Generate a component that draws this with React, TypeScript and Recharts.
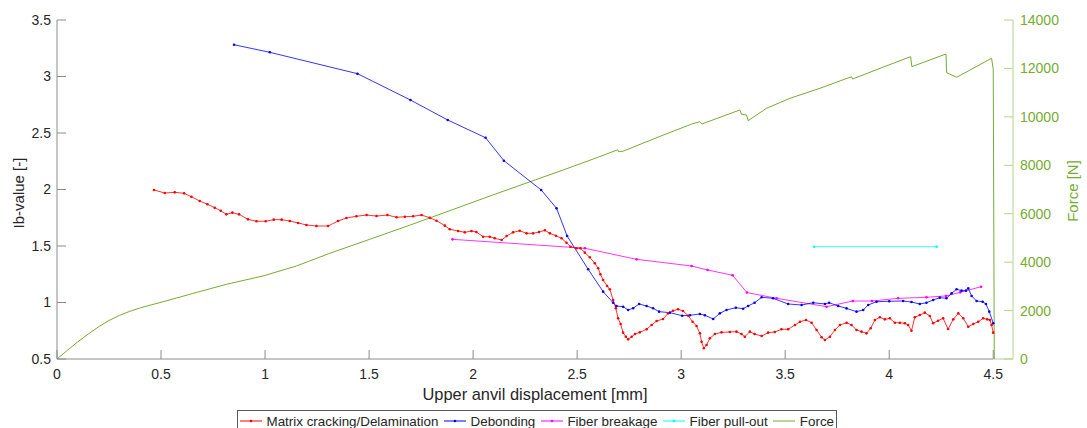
import React from 'react';
import { ComposedChart, Line, XAxis, YAxis, Legend, ReferenceLine } from 'recharts';

const FONT = '"Liberation Sans", Arial, Helvetica, sans-serif';

const xTicks = [0, 0.5, 1, 1.5, 2, 2.5, 3, 3.5, 4, 4.5];
const leftTicks = [0.5, 1, 1.5, 2, 2.5, 3, 3.5];
const rightTicks = [0, 2000, 4000, 6000, 8000, 10000, 12000, 14000];

const matrixX = [0.466, 0.518, 0.566, 0.611, 0.646, 0.686, 0.723, 0.758, 0.787, 0.814, 0.843, 0.875, 0.918, 0.959, 1.003, 1.042, 1.08, 1.119, 1.159, 1.199, 1.247, 1.303, 1.351, 1.391, 1.439, 1.488, 1.536, 1.588, 1.632, 1.672, 1.712, 1.752, 1.792, 1.824, 1.864, 1.888, 1.928, 1.96, 1.992, 2.016, 2.048, 2.08, 2.104, 2.137, 2.161, 2.192, 2.224, 2.257, 2.288, 2.317, 2.345, 2.369, 2.398, 2.425, 2.449, 2.468, 2.497, 2.516, 2.537, 2.561, 2.585, 2.601, 2.612, 2.625, 2.644, 2.657, 2.673, 2.686, 2.697, 2.709, 2.721, 2.734, 2.745, 2.762, 2.778, 2.801, 2.834, 2.858, 2.882, 2.913, 2.937, 2.961, 2.985, 3.009, 3.034, 3.055, 3.074, 3.09, 3.098, 3.109, 3.122, 3.138, 3.162, 3.194, 3.234, 3.266, 3.29, 3.306, 3.33, 3.353, 3.387, 3.418, 3.45, 3.482, 3.514, 3.547, 3.571, 3.6, 3.627, 3.651, 3.675, 3.691, 3.715, 3.739, 3.763, 3.795, 3.819, 3.843, 3.867, 3.891, 3.911, 3.931, 3.955, 3.979, 4.003, 4.027, 4.051, 4.075, 4.091, 4.107, 4.123, 4.147, 4.171, 4.195, 4.211, 4.235, 4.259, 4.283, 4.308, 4.332, 4.356, 4.38, 4.404, 4.428, 4.452, 4.471, 4.484, 4.492, 4.5];
const matrixY = [1.996, 1.969, 1.975, 1.966, 1.936, 1.898, 1.869, 1.839, 1.812, 1.78, 1.795, 1.78, 1.736, 1.719, 1.719, 1.733, 1.733, 1.721, 1.704, 1.686, 1.677, 1.677, 1.721, 1.748, 1.763, 1.774, 1.765, 1.774, 1.754, 1.759, 1.763, 1.774, 1.75, 1.724, 1.68, 1.648, 1.633, 1.621, 1.633, 1.624, 1.582, 1.582, 1.568, 1.553, 1.588, 1.621, 1.635, 1.612, 1.612, 1.624, 1.639, 1.612, 1.591, 1.568, 1.529, 1.494, 1.48, 1.48, 1.441, 1.4, 1.347, 1.303, 1.25, 1.199, 1.146, 1.117, 1.022, 0.949, 0.86, 0.81, 0.733, 0.697, 0.674, 0.697, 0.721, 0.736, 0.763, 0.801, 0.836, 0.854, 0.904, 0.927, 0.94, 0.925, 0.883, 0.83, 0.792, 0.727, 0.653, 0.595, 0.624, 0.683, 0.721, 0.736, 0.739, 0.742, 0.721, 0.697, 0.742, 0.721, 0.703, 0.733, 0.739, 0.763, 0.763, 0.801, 0.83, 0.845, 0.821, 0.757, 0.692, 0.668, 0.697, 0.757, 0.801, 0.821, 0.801, 0.757, 0.742, 0.727, 0.772, 0.845, 0.869, 0.851, 0.86, 0.821, 0.821, 0.816, 0.801, 0.75, 0.869, 0.889, 0.91, 0.881, 0.816, 0.839, 0.86, 0.765, 0.851, 0.904, 0.86, 0.786, 0.81, 0.83, 0.86, 0.851, 0.845, 0.801, 0.733];

const debondX = [0.851, 1.023, 1.444, 1.699, 1.878, 2.06, 2.148, 2.327, 2.401, 2.452, 2.553, 2.625, 2.673, 2.689, 2.721, 2.745, 2.769, 2.798, 2.834, 2.865, 2.894, 2.946, 3.005, 3.042, 3.09, 3.114, 3.154, 3.186, 3.218, 3.263, 3.298, 3.322, 3.353, 3.387, 3.442, 3.514, 3.579, 3.635, 3.691, 3.711, 3.755, 3.795, 3.843, 3.875, 3.899, 3.939, 4.0, 4.067, 4.107, 4.147, 4.179, 4.211, 4.243, 4.275, 4.3, 4.324, 4.348, 4.369, 4.38, 4.396, 4.42, 4.449, 4.465, 4.481, 4.5];
const debondY = [3.281, 3.214, 3.025, 2.792, 2.615, 2.458, 2.255, 1.996, 1.834, 1.588, 1.294, 1.096, 0.998, 0.969, 0.963, 0.934, 0.949, 0.987, 0.969, 0.949, 0.919, 0.91, 0.883, 0.887, 0.898, 0.887, 0.854, 0.904, 0.934, 0.954, 0.945, 0.969, 0.998, 1.046, 1.037, 0.987, 0.978, 0.998, 0.987, 0.998, 0.969, 0.948, 0.919, 0.934, 0.978, 1.007, 1.011, 1.013, 1.004, 0.987, 0.998, 1.022, 1.043, 1.037, 1.081, 1.117, 1.105, 1.105, 1.126, 1.058, 1.013, 1.007, 0.987, 0.919, 0.816];

const breakageX = [1.901, 2.537, 2.786, 3.05, 3.127, 3.247, 3.316, 3.459, 3.699, 3.825, 3.917, 4.043, 4.179, 4.273, 4.341, 4.442];
const breakageY = [1.559, 1.48, 1.382, 1.323, 1.288, 1.241, 1.088, 1.037, 0.963, 1.013, 1.013, 1.037, 1.046, 1.058, 1.09, 1.14];

const pulloutX = [3.639, 4.228];
const pulloutY = [1.494, 1.494];

const forceX = [0, 0.05, 0.1, 0.15, 0.2, 0.25, 0.3, 0.35, 0.4, 0.45, 0.494, 0.65, 0.814, 0.99, 1.151, 1.311, 1.503, 1.7, 1.888, 2.1, 2.3, 2.433, 2.6, 2.695, 2.7, 2.72, 2.9, 3.05, 3.09, 3.1, 3.282, 3.29, 3.314, 3.322, 3.41, 3.523, 3.667, 3.819, 3.824, 3.964, 4.103, 4.109, 4.273, 4.276, 4.324, 4.492, 4.5, 4.505];
const forceY = [0, 360, 710, 1030, 1330, 1590, 1800, 1970, 2110, 2230, 2326, 2700, 3084, 3428, 3841, 4365, 4943, 5540, 6126, 6790, 7400, 7806, 8330, 8640, 8560, 8580, 9200, 9700, 9800, 9706, 10284, 10106, 10077, 9842, 10354, 10767, 11180, 11659, 11564, 12031, 12485, 12072, 12597, 11824, 11634, 12419, 11965, 0];

const zip = (xs: number[], ys: number[]) => xs.map((x, i) => ({ x, y: ys[i] }));

const matrixData = zip(matrixX, matrixY);
const debondData = zip(debondX, debondY);
const breakageData = zip(breakageX, breakageY);
const pulloutData = zip(pulloutX, pulloutY);
const forceData = zip(forceX, forceY);

const RED = '#ff0000';
const BLUE = '#0000ff';
const MAGENTA = '#ff00ff';
const CYAN = '#00ffff';
const GREEN = '#77ac30';
const GREEN_AXIS = '#b3d48c';
const GRAY = '#8c8c8c';
const TEXT = '#262626';

const X_MAX = 4.595;

const makeDot = (color: string) => (p: any) => (
  <circle key={`d-${p.index}`} cx={p.cx} cy={p.cy} r={1.3} fill={color} stroke="none" />
);

const BottomTick = (p: any) => (
  <g>
    <line x1={p.x} x2={p.x} y1={p.y - 10} y2={p.y - 19} stroke={GRAY} strokeWidth={1} />
    <text x={p.x} y={p.y} dy="0.71em" textAnchor="middle" fontSize={14} fontFamily={FONT} fill={TEXT}>
      {p.payload.value}
    </text>
  </g>
);

const TopTick = (p: any) => (
  <line x1={p.x} x2={p.x} y1={p.y} y2={p.y + 9} stroke={GRAY} strokeWidth={1} />
);

const LeftTick = (p: any) => (
  <g>
    <line x1={p.x + 6} x2={p.x + 15} y1={p.y} y2={p.y} stroke={GRAY} strokeWidth={1} />
    <text x={p.x} y={p.y} dy="0.355em" textAnchor="end" fontSize={14} fontFamily={FONT} fill={TEXT}>
      {p.payload.value}
    </text>
  </g>
);

const RightTick = (p: any) => (
  <g>
    <line x1={p.x - 7} x2={p.x - 16} y1={p.y} y2={p.y} stroke={GREEN_AXIS} strokeWidth={1} />
    <text x={p.x} y={p.y} dy="0.355em" textAnchor="start" fontSize={14} fontFamily={FONT} fill={GREEN}>
      {p.payload.value}
    </text>
  </g>
);

const legendItems = [
  { name: 'Matrix cracking/Delamination', color: RED, dot: true },
  { name: 'Debonding', color: BLUE, dot: true },
  { name: 'Fiber breakage', color: MAGENTA, dot: true },
  { name: 'Fiber pull-out', color: CYAN, dot: true },
  { name: 'Force', color: GREEN, dot: false },
];

const renderLegend = () => (
  <div
    style={{
      border: '1px solid #5a5a5a',
      background: '#fff',
      height: 22,
      display: 'flex',
      alignItems: 'center',
      paddingLeft: 2,
      paddingRight: 2,
      boxSizing: 'border-box',
      fontFamily: FONT,
      fontSize: 13.4,
      color: TEXT,
      whiteSpace: 'nowrap',
    }}
  >
    {legendItems.map((it, i) => (
      <span key={it.name} style={{ display: 'flex', alignItems: 'center', marginLeft: i === 0 ? 0 : 5.6 }}>
        <svg width={22} height={12} style={{ display: 'block' }}>
          <line x1={0} x2={22} y1={6} y2={6} stroke={it.color} strokeWidth={1} />
          {it.dot && <circle cx={11} cy={6} r={1.3} fill={it.color} />}
        </svg>
        <span style={{ marginLeft: 4.5 }}>{it.name}</span>
      </span>
    ))}
  </div>
);

export default function App() {
  return (
    <div style={{ position: 'absolute', left: 0, top: 0, width: 1087, height: 428, overflow: 'hidden', background: '#fff' }}>
      <ComposedChart width={1087} height={428} margin={{ top: 20, right: 0, bottom: 0, left: 0 }}>
        <XAxis
          xAxisId="main"
          dataKey="x"
          type="number"
          domain={[0, X_MAX]}
          allowDataOverflow
          ticks={xTicks}
          interval={0}
          height={69}
          tickSize={0}
          tickMargin={10}
          axisLine={false}
          tickLine={false}
          tick={<BottomTick />}
          label={{
            content: () => (
              <text x={535} y={400} textAnchor="middle" fontSize={16.4} fontFamily={FONT} fill={TEXT}>
                Upper anvil displacement [mm]
              </text>
            ),
          }}
        />
        <XAxis
          xAxisId="top"
          orientation="top"
          dataKey="x"
          type="number"
          domain={[0, X_MAX]}
          allowDataOverflow
          ticks={xTicks}
          interval={0}
          height={0}
          tickSize={0}
          tickMargin={0}
          axisLine={{ stroke: GRAY, strokeWidth: 1 }}
          tickLine={false}
          tick={<TopTick />}
        />
        <YAxis
          yAxisId="left"
          type="number"
          domain={[0.5, 3.5]}
          allowDataOverflow
          ticks={leftTicks}
          interval={0}
          width={57}
          tickSize={0}
          tickMargin={6}
          axisLine={{ stroke: GRAY, strokeWidth: 1 }}
          tickLine={false}
          tick={<LeftTick />}
          label={{
            content: () => (
              <text
                x={24}
                y={193}
                transform="rotate(-90 24 193)"
                textAnchor="middle"
                fontSize={15}
                fontFamily={FONT}
                fill={TEXT}
              >
                Ib-value [-]
              </text>
            ),
          }}
        />
        <YAxis
          yAxisId="right"
          orientation="right"
          type="number"
          domain={[0, 14000]}
          allowDataOverflow
          ticks={rightTicks}
          interval={0}
          width={74}
          tickSize={0}
          tickMargin={7}
          axisLine={{ stroke: GREEN_AXIS, strokeWidth: 1 }}
          tickLine={false}
          tick={<RightTick />}
          label={{
            content: () => (
              <text
                x={1078}
                y={191}
                transform="rotate(-90 1078 191)"
                textAnchor="middle"
                fontSize={15}
                fontFamily={FONT}
                fill={GREEN}
              >
                Force [N]
              </text>
            ),
          }}
        />
        <ReferenceLine
          xAxisId="main"
          yAxisId="left"
          segment={[{ x: 0, y: 0.5 }, { x: 4.5, y: 0.5 }]}
          stroke={GRAY}
          strokeWidth={1}
        />
        <ReferenceLine
          xAxisId="main"
          yAxisId="right"
          segment={[{ x: 4.5, y: 0 }, { x: X_MAX, y: 0 }]}
          stroke={GREEN_AXIS}
          strokeWidth={1}
        />
        <Line
          xAxisId="main"
          yAxisId="right"
          data={forceData}
          dataKey="y"
          name="Force"
          type="linear"
          stroke={GREEN}
          strokeWidth={1}
          dot={false}
          activeDot={false}
          isAnimationActive={false}
        />
        <Line
          xAxisId="main"
          yAxisId="left"
          data={pulloutData}
          dataKey="y"
          name="Fiber pull-out"
          type="linear"
          stroke={CYAN}
          strokeWidth={0.8}
          dot={makeDot(CYAN)}
          activeDot={false}
          isAnimationActive={false}
        />
        <Line
          xAxisId="main"
          yAxisId="left"
          data={breakageData}
          dataKey="y"
          name="Fiber breakage"
          type="linear"
          stroke={MAGENTA}
          strokeWidth={0.8}
          dot={makeDot(MAGENTA)}
          activeDot={false}
          isAnimationActive={false}
        />
        <Line
          xAxisId="main"
          yAxisId="left"
          data={debondData}
          dataKey="y"
          name="Debonding"
          type="linear"
          stroke={BLUE}
          strokeWidth={0.8}
          dot={makeDot(BLUE)}
          activeDot={false}
          isAnimationActive={false}
        />
        <Line
          xAxisId="main"
          yAxisId="left"
          data={matrixData}
          dataKey="y"
          name="Matrix cracking/Delamination"
          type="linear"
          stroke={RED}
          strokeWidth={0.8}
          dot={makeDot(RED)}
          activeDot={false}
          isAnimationActive={false}
        />
        <Legend
          layout="horizontal"
          verticalAlign="middle"
          align="center"
          wrapperStyle={{ left: 237, top: 410, width: 'auto', height: 'auto' }}
          content={renderLegend}
        />
      </ComposedChart>
    </div>
  );
}
